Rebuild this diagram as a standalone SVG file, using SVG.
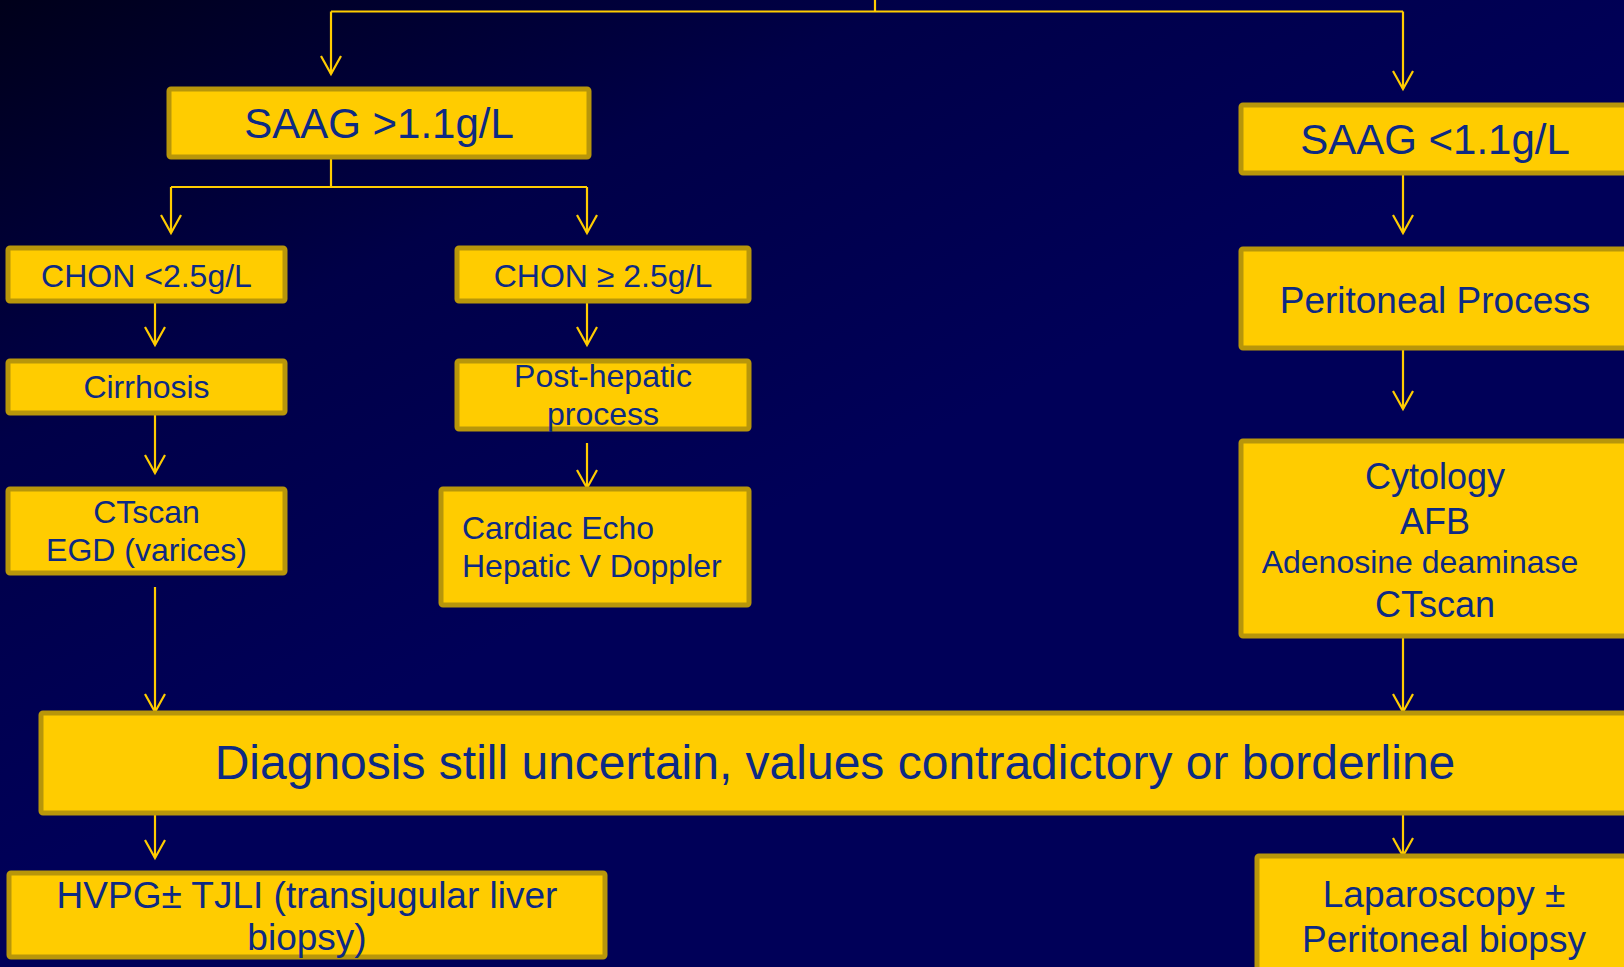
<svg xmlns="http://www.w3.org/2000/svg" width="1624" height="967" viewBox="0 0 1624 967">
<defs>
<linearGradient id="bg" x1="0" y1="0" x2="0.45" y2="0.55">
<stop offset="0" stop-color="#00001a"/>
<stop offset="0.5" stop-color="#000048"/>
<stop offset="1" stop-color="#000058"/>
</linearGradient>
<marker id="arr" markerUnits="userSpaceOnUse" markerWidth="24" markerHeight="24" viewBox="-20 -12 22 24" refX="0" refY="0" orient="auto" overflow="visible">
<path d="M-18,-10 L0,0 L-18,10" fill="none" stroke="#FFCC00" stroke-width="2.2"/>
</marker>
<style>
.box{fill:#FFCC00;stroke:#B8960A;stroke-width:5}
.t{font-family:"Liberation Sans",Arial,sans-serif;fill:#0D2A84;text-anchor:middle}
.c{stroke:#FFCC00;stroke-width:2.2;fill:none}
.a{stroke:#FFCC00;stroke-width:2.2;fill:none;marker-end:url(#arr)}
</style>
</defs>
<rect x="0" y="0" width="1624" height="967" fill="url(#bg)"/>

<g id="connectors">
<line class="c" x1="875" y1="0" x2="875" y2="11.5"/>
<line class="c" x1="331" y1="11.5" x2="1403" y2="11.5"/>
<line class="a" x1="331" y1="11.5" x2="331" y2="74"/>
<line class="a" x1="1403" y1="11.5" x2="1403" y2="89"/>
<line class="c" x1="331" y1="157" x2="331" y2="187"/>
<line class="c" x1="171" y1="187" x2="587" y2="187"/>
<line class="a" x1="171" y1="187" x2="171" y2="233"/>
<line class="a" x1="587" y1="187" x2="587" y2="233"/>
<line class="a" x1="155" y1="299" x2="155" y2="345"/>
<line class="a" x1="587" y1="299" x2="587" y2="345"/>
<line class="a" x1="155" y1="413" x2="155" y2="473"/>
<line class="a" x1="587" y1="443" x2="587" y2="488"/>
<line class="a" x1="155" y1="587" x2="155" y2="712"/>
<line class="a" x1="1403" y1="173" x2="1403" y2="233"/>
<line class="a" x1="1403" y1="348" x2="1403" y2="409"/>
<line class="a" x1="1403" y1="636" x2="1403" y2="712"/>
<line class="a" x1="155" y1="813" x2="155" y2="858"/>
<line class="a" x1="1403" y1="813" x2="1403" y2="856"/>
</g>

<g id="saag_hi">
<rect class="box" x="169" y="89" width="420" height="68" rx="2"/>
<text class="t" x="379" y="138" font-size="42">SAAG &gt;1.1g/L</text>
</g>
<g id="saag_lo">
<rect class="box" x="1241" y="105" width="400" height="68" rx="2"/>
<text class="t" x="1435" y="154" font-size="42">SAAG &lt;1.1g/L</text>
</g>
<g id="chon_lo">
<rect class="box" x="8" y="248" width="277" height="53" rx="2"/>
<text class="t" x="146.5" y="287" font-size="32">CHON &lt;2.5g/L</text>
</g>
<g id="chon_hi">
<rect class="box" x="457" y="248" width="292" height="53" rx="2"/>
<text class="t" x="603" y="287" font-size="32">CHON ≥ 2.5g/L</text>
</g>
<g id="cirrhosis">
<rect class="box" x="8" y="361" width="277" height="52" rx="2"/>
<text class="t" x="146.5" y="398" font-size="32">Cirrhosis</text>
</g>
<g id="posthepatic">
<rect class="box" x="457" y="361" width="292" height="68" rx="2"/>
<text class="t" x="603" y="387" font-size="32">Post-hepatic</text>
<text class="t" x="603" y="425" font-size="32">process</text>
</g>
<g id="ctscan_egd">
<rect class="box" x="8" y="489" width="277" height="84" rx="2"/>
<text class="t" x="146.5" y="523" font-size="32">CTscan</text>
<text class="t" x="146.5" y="561" font-size="32">EGD (varices)</text>
</g>
<g id="cardiac">
<rect class="box" x="441" y="489" width="308" height="116" rx="2"/>
<text class="t" x="462" y="539" font-size="32" text-anchor="start" style="text-anchor:start">Cardiac Echo</text>
<text class="t" x="462" y="577" font-size="32" style="text-anchor:start">Hepatic V Doppler</text>
</g>
<g id="peritoneal">
<rect class="box" x="1241" y="249" width="400" height="99" rx="2"/>
<text class="t" x="1435" y="313" font-size="37">Peritoneal Process</text>
</g>
<g id="cytology">
<rect class="box" x="1241" y="441" width="400" height="195" rx="2"/>
<text class="t" x="1435" y="489" font-size="36">Cytology</text>
<text class="t" x="1435" y="534" font-size="36">AFB</text>
<text class="t" x="1420" y="573" font-size="32">Adenosine deaminase</text>
<text class="t" x="1435" y="617" font-size="36">CTscan</text>
</g>
<g id="diagnosis">
<rect class="box" x="41" y="713" width="1600" height="100" rx="2"/>
<text class="t" x="835" y="779" font-size="48">Diagnosis still uncertain, values contradictory or borderline</text>
</g>
<g id="hvpg">
<rect class="box" x="9" y="873" width="596" height="84" rx="2"/>
<text class="t" x="307" y="908" font-size="37">HVPG± TJLI (transjugular liver</text>
<text class="t" x="307" y="950" font-size="37">biopsy)</text>
</g>
<g id="laparoscopy">
<rect class="box" x="1257" y="856" width="400" height="130" rx="2"/>
<text class="t" x="1444" y="907" font-size="37">Laparoscopy ±</text>
<text class="t" x="1444" y="952" font-size="37">Peritoneal biopsy</text>
</g>
</svg>
